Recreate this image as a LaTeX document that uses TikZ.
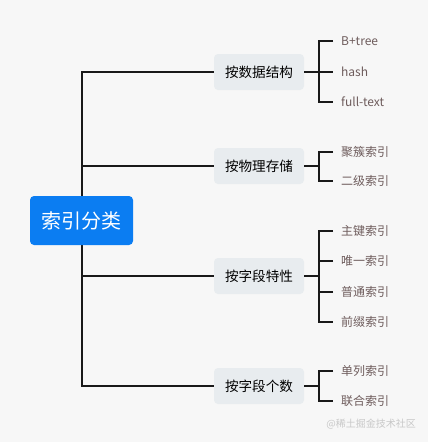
\documentclass[tikz,border=0pt]{standalone}
\usepackage{fontspec}
\setmainfont{Noto Sans CJK SC}
\newfontfamily\cjk{Noto Sans CJK SC}
\usetikzlibrary{calc, positioning}
\definecolor{rootblue}{RGB}{11,125,242}
\definecolor{catgrey}{RGB}{232,236,239}
\definecolor{leafbrown}{RGB}{110,92,92}
\definecolor{bggrey}{RGB}{247,247,247}
\definecolor{markgrey}{RGB}{200,200,200}

\begin{document}
\begin{tikzpicture}[
  x=1pt, y=-1pt,
  root/.style={rectangle, rounded corners=4pt, fill=rootblue, text=white, minimum width=103pt, minimum height=49pt, inner sep=0pt, font=\cjk\fontsize{20}{24}\selectfont},
  cat/.style={rectangle, rounded corners=4pt, fill=catgrey, text=black, minimum width=90pt, minimum height=36pt, inner sep=0pt, font=\cjk\fontsize{13.6}{16}\selectfont},
  leaf/.style={anchor=west, inner xsep=8pt, inner ysep=0pt, text=leafbrown, font=\cjk\fontsize{12}{14}\selectfont},
  trunk/.style={draw=black!90, line width=1.8pt},
  stem/.style={draw=black!90, line width=2.6pt},
  fork/.style={draw=black!90, line width=1.8pt}
]
% Background and page size
\fill[bggrey] (0,0) rectangle (428,442);
\useasboundingbox (0,0) rectangle (428,442);

% Categories
\node[cat] (c1) at (259,72) {按数据结构};
\node[cat] (c2) at (259,166) {按物理存储};
\node[cat] (c3) at (259,276) {按字段特性};
\node[cat] (c4) at (259,386) {按字段个数};

% Trunk lines from the root (drawn before the root box)
\coordinate (t) at (82,220);
\draw[trunk] (t) |- (c1.west);
\draw[trunk] (t) |- (c2.west);
\draw[trunk] (t) |- (c3.west);
\draw[trunk] (t) |- (c4.west);

% Root
\node[root] (root) at (81.5,220.5) {索引分类};

% Fork points
\coordinate (b1) at (319,72);
\coordinate (b2) at (319,166);
\coordinate (b3) at (319,276);
\coordinate (b4) at (319,386);

% Leaves
\node[leaf] (l1a) at (333,41) {B+tree};
\node[leaf] (l1b) at (333,72) {hash};
\node[leaf] (l1c) at (333,102) {full-text};

\node[leaf] (l2a) at (333,152) {聚簇索引};
\node[leaf] (l2b) at (333,181) {二级索引};

\node[leaf] (l3a) at (333,231) {主键索引};
\node[leaf] (l3b) at (333,261) {唯一索引};
\node[leaf] (l3c) at (333,292) {普通索引};
\node[leaf] (l3d) at (333,322) {前缀索引};

\node[leaf] (l4a) at (333,371) {单列索引};
\node[leaf] (l4b) at (333,401) {联合索引};

% Stems from categories to forks
\draw[stem] (c1.east) -- (b1);
\draw[stem] (c2.east) -- (b2);
\draw[stem] (c3.east) -- (b3);
\draw[stem] (c4.east) -- (b4);

% Forks to leaves
\draw[fork] (l1a.west) -| (b1) |- (l1c.west);
\draw[fork] (b1) -- (l1b.west);
\draw[fork] (l2a.west) -| (b2) |- (l2b.west);
\draw[fork] (l3a.west) -| (b3) |- (l3d.west);
\draw[fork] (l3b.west) -| (b3);
\draw[fork] (l3c.west) -| (b3);
\draw[fork] (l4a.west) -| (b4) |- (l4b.west);

% Watermark
\node[anchor=east, text=markgrey, inner sep=0pt, font=\cjk\fontsize{10}{12}\selectfont] (mark) at (416,424) {@稀土掘金技术社区};
\end{tikzpicture}
\end{document}
